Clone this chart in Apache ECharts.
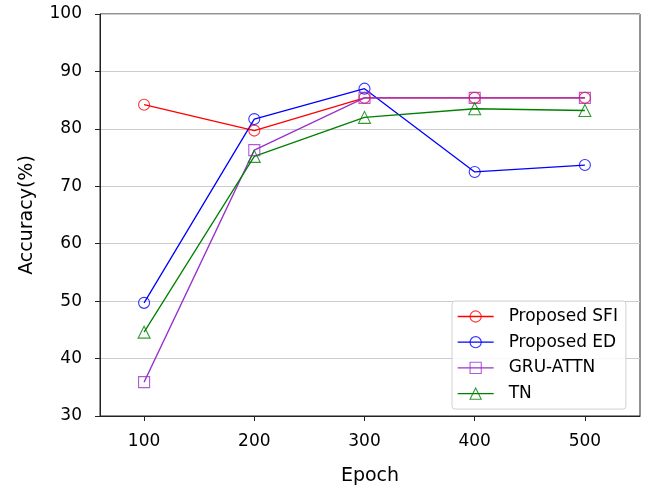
<!DOCTYPE html>
<html>
<head>
<meta charset="utf-8">
<script src="https://cdn.jsdelivr.net/npm/echarts@6/dist/echarts.min.js"></script>
<style>
  html, body { margin: 0; padding: 0; background: #fff; }
  #chart { width: 651px; height: 489px; }
</style>
</head>
<body>
<div id="chart"></div>
<script>
// data
var epochs = [100, 200, 300, 400, 500]
var seriesNames = ['Proposed SFI', 'Proposed ED', 'GRU-ATTN', 'TN']
var sfi = [84.2, 79.7, 85.4, 85.4, 85.4]
var ed = [49.7, 81.7, 87.0, 72.5, 73.7]
var gruAttn = [35.9, 76.3, 85.4, 85.4, 85.4]
var tn = [44.6, 75.2, 82.0, 83.5, 83.2]
var yTicks = [30, 40, 50, 60, 70, 80, 90, 100]

var colors = ['#ff0000', '#0000ff', '#9932cc', '#008000']
var symbols = ['circle', 'circle', 'rect', 'triangle']
var sizes = [11, 11, 11, 12]
var values = [sfi, ed, gruAttn, tn]

var font = 'DejaVu Sans'

function pairs(vals) {
  var out = []
  for (var i = 0; i < epochs.length; i++) {
    out.push([epochs[i], vals[i]])
  }
  return out
}

var series = []
for (var k = 0; k < seriesNames.length; k++) {
  series.push({
    name: seriesNames[k],
    type: 'line',
    data: pairs(values[k]),
    symbol: symbols[k],
    symbolSize: sizes[k],
    showAllSymbol: true,
    lineStyle: { color: colors[k], width: 1.3 },
    itemStyle: { color: 'rgba(0,0,0,0)', borderColor: colors[k], borderWidth: 1.1, opacity: 0.8 },
    emphasis: { disabled: true },
    animation: false
  })
}

var chart = echarts.init(document.getElementById('chart'), null, { renderer: 'canvas' })

var option = {
  animation: false,
  textStyle: { fontFamily: font },
  grid: {
    left: 100,
    right: 11,
    top: 14,
    bottom: 73,
    containLabel: false,
    outerBoundsMode: 'none',
    show: true,
    borderColor: '#222',
    borderWidth: 1,
    backgroundColor: 'transparent'
  },
  legend: {
    orient: 'vertical',
    left: 452,
    top: 301,
    data: seriesNames,
    itemWidth: 36,
    itemHeight: 14,
    itemGap: 8.7,
    padding: [7, 8, 7, 5],
    backgroundColor: 'rgba(255,255,255,0.85)',
    borderColor: '#d0d0d0',
    borderWidth: 1,
    borderRadius: 3,
    itemStyle: { borderWidth: 1.1 },
    lineStyle: { width: 1.3 },
    textStyle: { fontFamily: font, fontSize: 17, color: '#000', padding: [0, 0, 0, 10] }
  },
  xAxis: {
    type: 'value',
    min: 60,
    max: 550,
    name: 'Epoch',
    nameLocation: 'middle',
    nameGap: 51,
    nameTextStyle: { fontFamily: font, fontSize: 19, color: '#000' },
    axisLine: { show: true, lineStyle: { color: '#222' } },
    axisTick: { show: true, length: 5, customValues: epochs, lineStyle: { color: '#222' } },
    axisLabel: { customValues: epochs, fontFamily: font, fontSize: 17, color: '#000', margin: 17 },
    splitLine: { show: false }
  },
  yAxis: {
    type: 'value',
    min: 30,
    max: 100,
    interval: 10,
    name: 'Accuracy(%)',
    nameLocation: 'middle',
    nameGap: 63,
    nameTextStyle: { fontFamily: font, fontSize: 19, color: '#000' },
    axisLine: { show: true, lineStyle: { color: '#222' } },
    axisTick: { show: true, length: 5, lineStyle: { color: '#222' } },
    axisLabel: { fontFamily: font, fontSize: 17, color: '#000', margin: 18,
      formatter: function (v) { return yTicks.indexOf(v) >= 0 ? String(v) : '' } },
    splitLine: { show: true, lineStyle: { color: '#cccccc', width: 1 } }
  },
  series: series
}

chart.setOption(option)
</script>
</body>
</html>
